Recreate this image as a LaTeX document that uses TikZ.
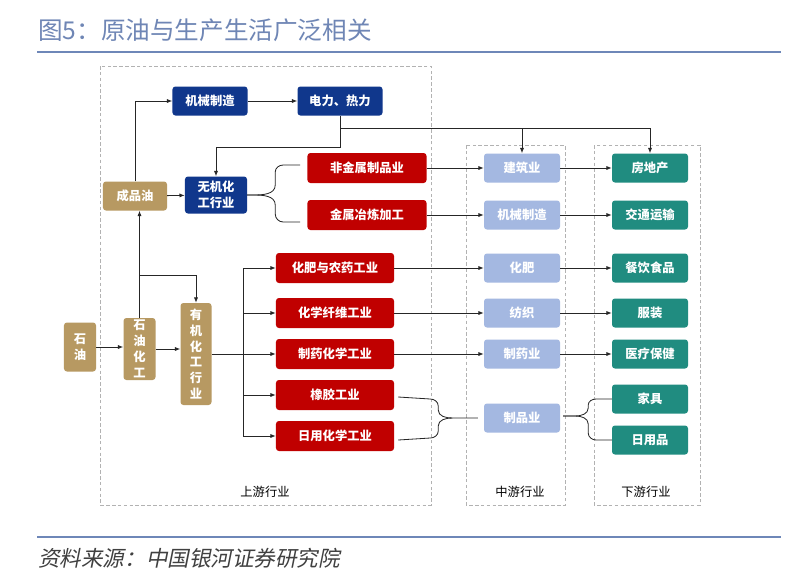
\documentclass[tikz,border=0pt]{standalone}
\usepackage{fontspec}
\newfontfamily\cjk{Noto Sans CJK SC}
\newfontfamily\cjkit{Noto Sans CJK SC}[FakeSlant=0.2]
\usepackage{tikz}
\usetikzlibrary{arrows.meta,calc}
\definecolor{ttl}{RGB}{111,134,181}
\definecolor{rulec}{RGB}{110,135,184}
\definecolor{dkb}{RGB}{16,55,140}
\definecolor{tan}{RGB}{183,153,98}
\definecolor{rd}{RGB}{192,0,0}
\definecolor{lb}{RGB}{164,184,225}
\definecolor{tl}{RGB}{32,140,128}

\begin{document}
\begin{tikzpicture}[x=0.03cm, y=0.03cm,
	every node/.style={font=\cjk\fontsize{10.5}{13.5}\selectfont},
	box/.style={rounded corners=2.5pt, inner sep=0pt, text=white, align=center, font=\cjk\bfseries\fontsize{10.5}{13.5}\selectfont},
	dkbox/.style={box, fill=dkb, minimum height=0.87cm},
	tanbox/.style={box, fill=tan},
	rdbox/.style={box, fill=rd, minimum width=3.54cm, minimum height=0.9cm},
	lbbox/.style={box, fill=lb, minimum width=2.28cm, minimum height=0.87cm},
	tlbox/.style={box, fill=tl, minimum width=2.28cm, minimum height=0.87cm},
	arr/.style={-{Latex[length=4.5pt,width=3.5pt]}, line width=0.7pt, draw=black!85},
	ln/.style={line width=0.7pt, draw=black!85},
	zone/.style={draw=black!30, dash pattern=on 3pt off 2pt, line width=0.5pt}]
	\fill[white] (0,0) rectangle (800,-577);
	\useasboundingbox (0,0) rectangle (800,-577);
	\node[anchor=west, inner sep=0pt, text=ttl, font=\cjk\fontsize{21}{23}\selectfont] (title) at (38,-30) {图5：原油与生产生活广泛相关};
	\draw[line width=2.5pt, draw=rulec] (37,-52) -- (781,-52);
	\draw[line width=2.5pt, draw=rulec] (37,-537) -- (781,-537);
	\node[anchor=west, inner sep=0pt, text=black!75, font=\cjkit\fontsize{18.4}{20}\selectfont] (src) at (38,-558) {资料来源：中国银河证券研究院};
	\draw[zone] (100,-66) rectangle (431,-505);
	\draw[zone] (466,-145) rectangle (565,-505);
	\draw[zone] (594,-145) rectangle (700,-505);
	\node (up) at (265,-492) {上游行业};
	\node (mid) at (520,-492) {中游行业};
	\node (down) at (646,-492) {下游行业};
	\node[dkbox, minimum width=2.25cm] (jx1) at (210,-101) {机械制造};
	\node[dkbox, minimum width=2.55cm] (dl) at (340,-101) {电力、热力};
	\node[tanbox, minimum width=1.92cm, minimum height=0.87cm] (cpy) at (135,-196) {成品油};
	\node[dkbox, minimum width=1.86cm, minimum height=1.11cm] (wj) at (216,-195) {无机化\\工行业};
	\node[rdbox, minimum width=3.57cm] (fj) at (367,-168) {非金属制品业};
	\node[rdbox, minimum width=3.57cm] (mj) at (367,-215) {金属冶炼加工};
	\node[lbbox] (jz) at (522,-168) {建筑业};
	\node[lbbox] (jx2) at (522,-215) {机械制造};
	\node[tlbox] (fdc) at (650,-168) {房地产};
	\node[tlbox] (jt) at (650,-215) {交通运输};
	\node[tanbox, minimum width=0.96cm, minimum height=1.47cm] (sy) at (80,-347) {石\\油};
	\node[tanbox, minimum width=0.96cm, minimum height=1.86cm] (syhg) at (139.5,-349) {石\\油\\化\\工};
	\node[tanbox, minimum width=0.93cm, minimum height=3.06cm] (yj) at (196,-354) {有\\机\\化\\工\\行\\业};
	\node[rdbox] (hf) at (335,-268) {化肥与农药工业};
	\node[rdbox] (hx) at (335,-313) {化学纤维工业};
	\node[rdbox] (zy) at (335,-354) {制药化学工业};
	\node[rdbox] (xj) at (335,-395) {橡胶工业};
	\node[rdbox] (rh) at (335,-436) {日用化学工业};
	\node[lbbox] (hfm) at (522,-268) {化肥};
	\node[lbbox] (fz) at (522,-313) {纺织};
	\node[lbbox] (zyy) at (522,-354) {制药业};
	\node[lbbox] (zp) at (522,-418) {制品业};
	\node[tlbox] (cy) at (650,-268) {餐饮食品};
	\node[tlbox] (fzz) at (650,-313) {服装};
	\node[tlbox] (yl) at (650,-354) {医疗保健};
	\node[tlbox] (ja) at (650,-399) {家具};
	\node[tlbox] (ry) at (650,-440) {日用品};
	\draw[arr] (sy.east) -- (sy.east -| syhg.west);
	\draw[arr] (syhg.east) -- (syhg.east -| yj.west);
	\draw[arr] (syhg.north) -- (syhg.north |- cpy.south);
	\coordinate (fk) at (syhg.north |- 0,-275);
	\draw[arr] (fk) -| (yj.north);
	\draw[arr] (cpy.north) |- (jx1.west);
	\draw[arr] (jx1) -- (dl);
	\coordinate (dlk) at (dl.south |- 0,-147);
	\coordinate (dlr) at (dl.south |- 0,-128);
	\draw[arr] (dl.south) -- (dlk) -| (wj.north);
	\draw[arr] (dlr) -| (fdc.north);
	\draw[arr] (dlr) -| (jz.north);
	\draw[arr] (cpy) -- (wj);
	\draw[ln] (wj.east) -- ++(6,0) to[out=0,in=-90] ++(22,10) -- ++(0,13) to[out=90,in=180] ++(8,7) -- ++(17,0);
	\draw[ln] (wj.east) -- ++(6,0) to[out=0,in=90] ++(22,-10) -- ++(0,-9) to[out=-90,in=180] ++(8,-8) -- ++(17,0);
	\draw[arr] (fj) -- (jz);
	\draw[arr] (mj) -- (jx2);
	\draw[arr] (jz) -- (fdc);
	\draw[arr] (jx2) -- (jt);
	\coordinate (bus) at (243,-354);
	\draw[arr] (yj.east) -- (zy.west);
	\draw[ln] (bus |- hf.west) -- (bus |- rh.west);
	\draw[arr] (bus |- hf.west) -- (hf.west);
	\draw[arr] (bus |- hx.west) -- (hx.west);
	\draw[arr] (bus |- xj.west) -- (xj.west);
	\draw[arr] (bus |- rh.west) -- (rh.west);
	\draw[arr] (hf) -- (hfm);
	\draw[arr] (hfm) -- (cy);
	\draw[arr] (hx) -- (fz);
	\draw[arr] (fz) -- (fzz);
	\draw[arr] (zy) -- (zyy);
	\draw[arr] (zyy) -- (yl);
	\draw[ln] ($(xj.east)+(4,-2)$) -- ++(32,-2) to[out=0,in=90] ++(8,-7) -- ++(0,-4) to[out=-90,in=180] ++(14,-8) -- ($(zp.west)+(-6,0)$);
	\draw[ln] ($(rh.east)+(4,-4)$) -- ++(32,2) to[out=0,in=-90] ++(8,7) -- ++(0,5) to[out=90,in=180] ++(14,8);
	\draw[ln] ($(zp.east)+(3,2)$) -- ++(12,0) to[out=0,in=-90] ++(13,8) -- ++(0,3) to[out=90,in=180] ++(8,6) -- (ja.west);
	\draw[ln] ($(zp.east)+(3,2)$) -- ++(12,0) to[out=0,in=90] ++(13,-8) -- ++(0,-9) to[out=-90,in=180] ++(8,-7) -- (ry.west);
\end{tikzpicture}
\end{document}
